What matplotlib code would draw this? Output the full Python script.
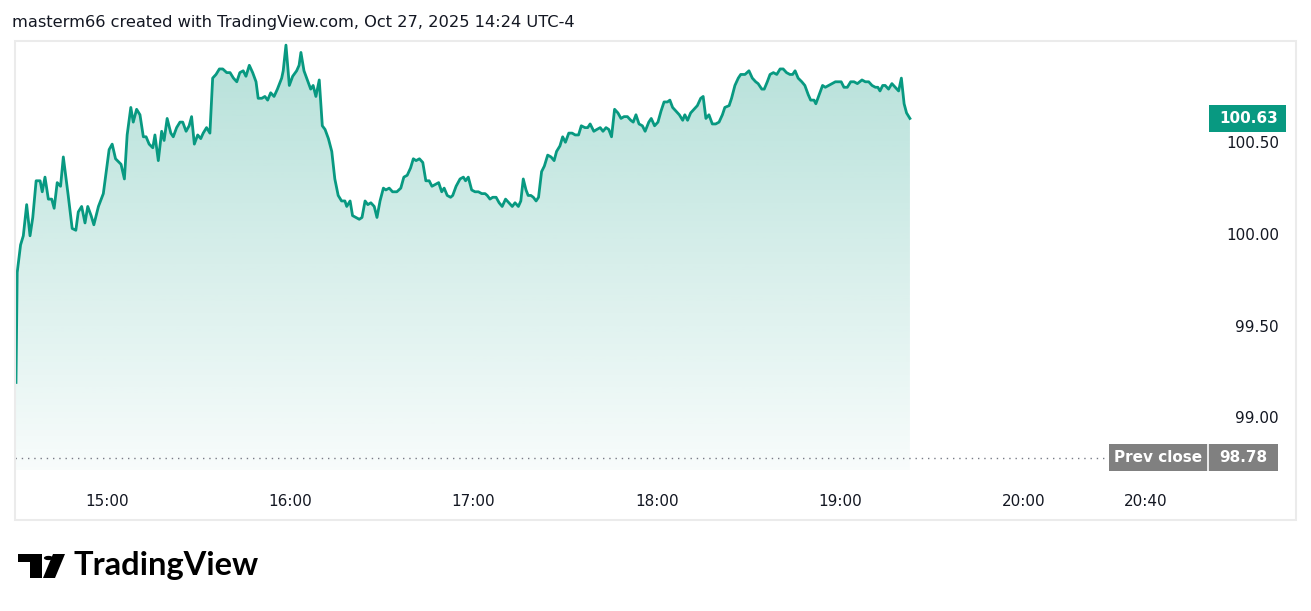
import matplotlib
matplotlib.use("Agg")
import matplotlib.pyplot as plt
import numpy as np
from matplotlib.patches import Rectangle, Polygon, Circle
from matplotlib.transforms import blended_transform_factory

# minutes after 14:00
minutes = [
    30.2, 30.6, 31.7, 32.6, 33.7, 34.8, 35.7, 36.8, 38.1, 38.8,
    39.7, 40.8, 41.9, 42.7, 43.7, 44.8, 45.7, 47.3, 48.6, 49.8,
    50.6, 51.7, 52.8, 53.7, 54.8, 55.7, 57.2, 58.8, 60.7, 61.7,
    62.8, 64.6, 65.7, 66.6, 67.8, 68.6, 69.7, 70.8, 71.9, 72.8,
    73.8, 75.0, 75.7, 76.8, 77.9, 78.7, 79.7, 80.9, 81.7, 82.8,
    83.9, 84.8, 85.9, 86.9, 87.7, 88.6, 89.7, 90.7, 91.5, 92.6,
    93.7, 94.6, 95.7, 96.8, 97.9, 99.2, 100.3, 101.4, 102.5, 103.5,
    104.6, 105.5, 106.6, 107.7, 108.8, 109.5, 110.7, 111.7, 112.6, 113.6,
    114.7, 115.8, 117.2, 117.7, 118.6, 119.7, 120.8, 122.1, 122.9, 123.5,
    124.5, 125.6, 126.7, 127.5, 128.4, 129.5, 130.5, 131.4, 132.5, 133.6,
    134.6, 135.7, 136.8, 137.9, 138.5, 139.6, 140.4, 141.5, 142.6, 143.5,
    144.5, 145.4, 146.4, 147.5, 148.4, 149.4, 150.5, 151.3, 152.4, 153.5,
    154.9, 156.2, 157.2, 158.3, 159.4, 160.3, 161.2, 162.3, 163.4, 164.4,
    165.5, 166.4, 167.5, 168.6, 169.6, 170.4, 171.4, 172.5, 173.2, 174.3,
    175.6, 176.7, 177.4, 178.3, 179.4, 180.5, 181.6, 182.7, 183.8, 184.5,
    185.4, 186.3, 187.4, 188.4, 189.4, 190.5, 191.6, 192.7, 193.6, 194.7,
    195.5, 196.3, 197.2, 197.9, 198.8, 199.6, 200.5, 201.3, 202.3, 203.2,
    204.3, 205.4, 206.4, 207.2, 208.3, 209.2, 210.1, 211.2, 212.3, 213.3,
    214.4, 215.3, 216.5, 217.4, 218.2, 219.4, 220.4, 221.5, 222.4, 223.4,
    224.3, 225.2, 226.2, 227.3, 228.3, 229.3, 230.4, 231.5, 232.3, 233.2,
    234.2, 235.3, 236.2, 237.4, 238.2, 239.3, 240.4, 241.4, 242.4, 243.5,
    244.3, 245.2, 246.3, 247.4, 248.5, 249.2, 250.1, 251.1, 252.2, 253.3,
    254.4, 255.2, 256.1, 257.1, 258.2, 259.3, 260.4, 261.5, 262.3, 263.7,
    264.5, 265.6, 266.7, 267.5, 268.9, 270.2, 271.3, 272.4, 273.2, 274.4,
    275.2, 276.2, 277.1, 278.2, 279.3, 280.4, 281.4, 282.5, 283.6, 284.5,
    285.3, 286.3, 287.5, 288.5, 289.6, 290.4, 291.5, 292.1, 293.2, 294.3,
    295.2, 296.3, 297.4, 298.5, 299.6, 300.4, 301.3, 302.4, 303.5, 304.6,
    305.7, 307.2, 308.3, 309.4, 310.5, 311.6, 312.4, 313.1, 314.0, 314.8,
    315.9, 317.0, 318.1, 319.2, 320.1, 321.0, 321.8, 322.9,
]

prices = [
    99.19, 99.79, 99.94, 99.99, 100.16, 99.99, 100.09, 100.29, 100.29, 100.23,
    100.31, 100.19, 100.19, 100.14, 100.28, 100.26, 100.42, 100.21, 100.03, 100.02,
    100.12, 100.15, 100.06, 100.15, 100.10, 100.05, 100.15, 100.22, 100.46, 100.49,
    100.41, 100.38, 100.30, 100.54, 100.69, 100.61, 100.68, 100.65, 100.53, 100.53,
    100.49, 100.47, 100.54, 100.40, 100.56, 100.51, 100.63, 100.55, 100.53, 100.58,
    100.61, 100.61, 100.56, 100.59, 100.64, 100.49, 100.54, 100.52, 100.55, 100.58,
    100.55, 100.85, 100.87, 100.90, 100.90, 100.88, 100.88, 100.85, 100.83, 100.88,
    100.89, 100.86, 100.92, 100.88, 100.83, 100.74, 100.74, 100.75, 100.73, 100.77,
    100.75, 100.79, 100.85, 100.89, 101.03, 100.81, 100.86, 100.89, 100.92, 100.99,
    100.89, 100.84, 100.79, 100.81, 100.75, 100.84, 100.59, 100.57, 100.52, 100.45,
    100.30, 100.21, 100.18, 100.18, 100.15, 100.18, 100.10, 100.09, 100.08, 100.09,
    100.18, 100.16, 100.17, 100.15, 100.09, 100.18, 100.25, 100.24, 100.25, 100.23,
    100.23, 100.25, 100.31, 100.32, 100.36, 100.41, 100.40, 100.41, 100.39, 100.29,
    100.29, 100.26, 100.27, 100.28, 100.23, 100.25, 100.21, 100.20, 100.21, 100.26,
    100.30, 100.31, 100.29, 100.31, 100.24, 100.23, 100.23, 100.22, 100.22, 100.21,
    100.19, 100.20, 100.20, 100.17, 100.15, 100.19, 100.17, 100.15, 100.17, 100.15,
    100.18, 100.30, 100.24, 100.21, 100.21, 100.20, 100.18, 100.20, 100.34, 100.37,
    100.43, 100.42, 100.40, 100.45, 100.48, 100.53, 100.50, 100.55, 100.55, 100.54,
    100.54, 100.59, 100.58, 100.58, 100.60, 100.56, 100.57, 100.58, 100.56, 100.58,
    100.57, 100.53, 100.68, 100.66, 100.63, 100.64, 100.64, 100.62, 100.61, 100.65,
    100.60, 100.59, 100.56, 100.61, 100.63, 100.59, 100.61, 100.67, 100.72, 100.72,
    100.73, 100.69, 100.67, 100.65, 100.62, 100.65, 100.62, 100.66, 100.68, 100.70,
    100.74, 100.75, 100.63, 100.65, 100.60, 100.60, 100.61, 100.65, 100.69, 100.70,
    100.74, 100.81, 100.85, 100.87, 100.87, 100.89, 100.85, 100.83, 100.82, 100.79,
    100.79, 100.83, 100.87, 100.88, 100.87, 100.90, 100.90, 100.88, 100.87, 100.87,
    100.89, 100.85, 100.83, 100.81, 100.76, 100.73, 100.73, 100.71, 100.76, 100.81,
    100.80, 100.81, 100.82, 100.83, 100.83, 100.83, 100.80, 100.80, 100.83, 100.83,
    100.82, 100.84, 100.83, 100.83, 100.81, 100.80, 100.80, 100.78, 100.81, 100.81,
    100.79, 100.82, 100.80, 100.78, 100.85, 100.71, 100.66, 100.63,
]

tick_minutes = [60, 120, 180, 240, 300, 360, 400]
tick_labels = ["15:00", "16:00", "17:00", "18:00", "19:00", "20:00", "20:40"]
price_ticks = [99.00, 99.50, 100.00, 100.50]
prev_close = 98.78
last_price = 100.63

GREEN = "#089981"
TEXT = "#131722"
W, H = 1311, 611

fig = plt.figure(figsize=(W / 100, H / 100), dpi=100)
fig.patch.set_facecolor("white")

# pane position in pixels
left, right, top, bottom = 15, 1208, 42, 470
ax = fig.add_axes([left / W, 1 - bottom / H, (right - left) / W, (bottom - top) / H])
ax.set_xlim(29.88, 420.5)
ax.set_ylim(98.7125, 101.047)
for s in ax.spines.values():
    s.set_visible(False)

t = np.array(minutes)
p = np.array(prices)
ylo = ax.get_ylim()[0]

# gradient area
n = 256
alpha = np.linspace(0.03, 0.30, n)
grad = np.zeros((n, 1, 4))
grad[:, 0, 0] = 8 / 255
grad[:, 0, 1] = 153 / 255
grad[:, 0, 2] = 129 / 255
grad[:, 0, 3] = alpha
im = ax.imshow(grad, extent=[t[0], t[-1], ylo, p.max()], aspect="auto",
               origin="lower", zorder=1)
verts = [(t[0], ylo)] + list(zip(t, p)) + [(t[-1], ylo)]
clip = Polygon(verts, closed=True, facecolor="none", edgecolor="none")
ax.add_patch(clip)
im.set_clip_path(clip)

ax.plot(t, p, color=GREEN, lw=2.0, zorder=3, solid_joinstyle="round")

# prev close dotted line
xend = (1109 - left) / (right - left)
ax.axhline(prev_close, xmin=0, xmax=xend, color="#787b86", lw=1,
           linestyle=(0, (1, 3.5)), zorder=2)

# axes ticks
ax.set_xticks(tick_minutes)
ax.set_xticklabels(tick_labels)
ax.tick_params(axis="x", length=0, pad=17, labelsize=11, labelcolor=TEXT)
ax.yaxis.tick_right()
ax.set_yticks(price_ticks)
ax.set_yticklabels([f"{v:.2f}" for v in price_ticks])
ax.tick_params(axis="y", length=0, pad=51, labelsize=11, labelcolor=TEXT)
for lab in ax.get_yticklabels():
    lab.set_horizontalalignment("right")

# badges on the price scale
tr = blended_transform_factory(ax.transAxes, ax.transData)
pw = right - left
ppu = (bottom - top) / (ax.get_ylim()[1] - ax.get_ylim()[0])
bh = 27 / ppu
ax.add_patch(Rectangle(((1209 - left) / pw, last_price - bh / 2), 77 / pw, bh,
                       transform=tr, facecolor=GREEN, edgecolor="none",
                       clip_on=False, zorder=5))
ax.text((1278 - left) / pw, last_price, f"{last_price:.2f}", transform=tr,
        ha="right", va="center", color="white", fontsize=11,
        fontweight="bold", zorder=6, clip_on=False)

ax.add_patch(Rectangle(((1109 - left) / pw, prev_close - bh / 2), 169 / pw, bh,
                       transform=tr, facecolor="#808080", edgecolor="none",
                       clip_on=False, zorder=5))
ax.plot([1.0, 1.0], [prev_close - bh / 2, prev_close + bh / 2], transform=tr,
        color="white", lw=1.2, clip_on=False, zorder=6)
ax.text((1158 - left) / pw, prev_close, "Prev close", transform=tr,
        ha="center", va="center", color="white", fontsize=11,
        fontweight="bold", zorder=6, clip_on=False)
ax.text((1243 - left) / pw, prev_close, f"{prev_close:.2f}", transform=tr,
        ha="center", va="center", color="white", fontsize=11,
        fontweight="bold", zorder=6, clip_on=False)

# outer frame
fig.patches.append(Rectangle((15 / W, 1 - 520 / H), (1296 - 15) / W, (520 - 41) / H,
                             transform=fig.transFigure, facecolor="none",
                             edgecolor="#ebebeb", lw=1.5))

# header
fig.text(12 / W, 1 - 22 / H, "masterm66 created with TradingView.com, Oct 27, 2025 14:24 UTC-4",
         ha="left", va="center", fontsize=11.7, color=TEXT)

# logo
def fp(x, y):
    return (x / W, 1 - y / H)

fig.patches.append(Polygon([fp(18, 554), fp(42, 554), fp(42, 578), fp(30, 578),
                            fp(30, 562), fp(18, 562)], closed=True,
                           transform=fig.transFigure, facecolor="black", edgecolor="none"))
fig.patches.append(Circle(fp(48.5, 558), 4.6 / W, transform=fig.transFigure,
                          facecolor="black", edgecolor="none"))
fig.patches.append(Polygon([fp(53, 554), fp(65, 554), fp(55, 578), fp(43, 578)],
                           closed=True, transform=fig.transFigure,
                           facecolor="black", edgecolor="none"))
fig.text(73 / W, 1 - 566 / H, "TradingView", ha="left", va="center",
         fontsize=23.5, fontweight="bold", family="Lato", color="black")

fig.savefig("out.png", dpi=100)
